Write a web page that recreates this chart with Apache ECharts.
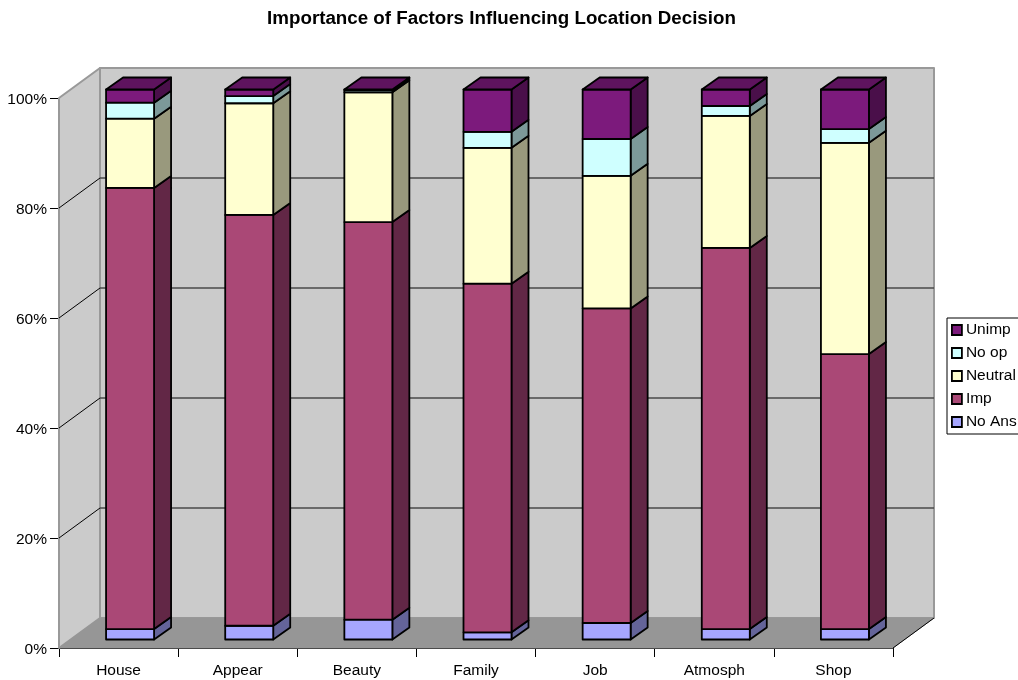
<!DOCTYPE html>
<html>
<head>
<meta charset="utf-8">
<style>
  html, body { margin: 0; padding: 0; background: #fff; }
  #chart { width: 1018px; height: 680px; }
</style>
<script src="https://cdn.jsdelivr.net/npm/echarts@6/dist/echarts.min.js"></script>
</head>
<body>
<div id="chart"></div>
<script>
var categories = ['House', 'Appear', 'Beauty', 'Family', 'Job', 'Atmosph', 'Shop'];
var noAns   = [1.9, 2.5, 3.6, 1.3, 3.0, 1.9, 1.9];
var imp     = [80.2, 74.7, 72.3, 63.4, 57.2, 69.3, 50.0];
var neutral = [12.6, 20.3, 23.6, 24.7, 24.1, 24.0, 38.4];
var noOp    = [2.9, 1.3, 0.4, 2.9, 6.7, 1.8, 2.5];
var unimp   = [2.4, 1.2, 0.1, 7.7, 9.0, 3.0, 7.2];
var seriesNames = ['No Ans', 'Imp', 'Neutral', 'No op', 'Unimp'];
var seriesValues = [noAns, imp, neutral, noOp, unimp];
var frontColors = ['#A6A6FF', '#AA4876', '#FFFFD0', '#CFFFFF', '#7C1A7C'];
var sideColors  = ['#646499', '#622746', '#99997D', '#7C9999', '#4A0F4A'];
var topColor = '#5E135E';
var gridTicks = [0, 20, 40, 60, 80, 100];

// 3d offsets in px: wall depth, gap before the bar, bar depth
var wallDx = 41, wallDy = 30;
var gapDx = 11.5, gapDy = 8.5;
var barDx = 17, barDy = 12;
var barWidth = 48;
var barLine = 1.8;

var myChart = echarts.init(document.getElementById('chart'));

function poly(points, fill, stroke, lineWidth) {
  return {
    type: 'polygon',
    shape: { points: points },
    style: { fill: fill, stroke: stroke, lineWidth: lineWidth, lineJoin: 'round' },
    silent: true
  };
}

function renderWalls(params, api) {
  var sys = params.coordSys;
  var l = sys.x, r = sys.x + sys.width, t = sys.y, b = sys.y + sys.height;
  return {
    type: 'group',
    children: [
      poly([[l, t], [l + wallDx, t - wallDy], [l + wallDx, b - wallDy], [l, b]], '#CBCBCB', '#999999', 2),
      poly([[l + wallDx, t - wallDy], [r + wallDx, t - wallDy], [r + wallDx, b - wallDy], [l + wallDx, b - wallDy]], '#CBCBCB', '#999999', 2),
      poly([[l, b], [l + wallDx, b - wallDy], [r + wallDx, b - wallDy], [r, b]], '#969696', '#969696', 1),
      // right edge of the floor is dark
      { type: 'line', silent: true, shape: { x1: r, y1: b, x2: r + wallDx, y2: b - wallDy }, style: { stroke: '#000', lineWidth: 1 } }
    ]
  };
}

function renderGridLine(params, api) {
  var sys = params.coordSys;
  var y = api.coord([0, api.value(0)])[1];
  var l = sys.x, r = sys.x + sys.width;
  return {
    type: 'group',
    children: [
      { type: 'line', silent: true, shape: { x1: l, y1: y, x2: l + wallDx, y2: y - wallDy }, style: { stroke: '#000', lineWidth: 1 } },
      { type: 'line', silent: true, shape: { x1: l + wallDx, y1: y - wallDy, x2: r + wallDx, y2: y - wallDy }, style: { stroke: '#4A4A4A', lineWidth: 1.5 } }
    ]
  };
}

function makeBarRenderer(seriesIndex) {
  return function (params, api) {
    var lowPt = api.coord([api.value(0), api.value(1)]);
    var highPt = api.coord([api.value(0), api.value(2)]);
    var x0 = lowPt[0] - barWidth / 2 + gapDx;
    var x1 = x0 + barWidth;
    var y0 = lowPt[1] - gapDy;
    var y1 = highPt[1] - gapDy;
    var children = [
      poly([[x1, y0], [x1 + barDx, y0 - barDy], [x1 + barDx, y1 - barDy], [x1, y1]], sideColors[seriesIndex], '#000', barLine),
      poly([[x0, y0], [x1, y0], [x1, y1], [x0, y1]], frontColors[seriesIndex], '#000', barLine)
    ];
    if (seriesIndex === seriesValues.length - 1) {
      children.push(poly([[x0, y1], [x1, y1], [x1 + barDx, y1 - barDy], [x0 + barDx, y1 - barDy]], topColor, '#000', barLine));
    }
    return { type: 'group', children: children };
  };
}

var series = [
  { type: 'custom', name: 'walls', silent: true, clip: false, z: 1, renderItem: renderWalls, data: [[0]], encode: { y: 0 } },
  { type: 'custom', name: 'grid', silent: true, clip: false, z: 2, renderItem: renderGridLine, data: gridTicks.slice(1, 5).map(function (v) { return [v]; }), encode: { y: 0 } }
];

var running = categories.map(function () { return 0; });
seriesValues.forEach(function (vals, si) {
  var rows = vals.map(function (v, i) {
    var row = [i, running[i], running[i] + v];
    running[i] += v;
    return row;
  });
  series.push({
    type: 'custom',
    name: seriesNames[si],
    silent: true,
    clip: false,
    z: 3 + si,
    itemStyle: { color: frontColors[si] },
    renderItem: makeBarRenderer(si),
    encode: { x: 0, y: [1, 2] },
    data: rows
  });
});

var option = {
  animation: false,
  backgroundColor: '#fff',
  textStyle: { fontFamily: '"Liberation Sans", Arial, sans-serif' },
  title: {
    text: 'Importance of Factors Influencing Location Decision',
    left: 496.5,
    textAlign: 'center',
    top: 4,
    textStyle: { fontSize: 18.75, fontWeight: 'bold', color: '#000', fontFamily: '"Liberation Sans", Arial, sans-serif' }
  },
  grid: { left: 59, top: 98, width: 834, height: 550 },
  legend: {
    orient: 'vertical',
    left: 947,
    top: 318,
    padding: [4, 10, 4, 4],
    itemWidth: 10,
    itemHeight: 10,
    itemGap: 7,
    backgroundColor: '#fff',
    borderColor: '#000',
    borderWidth: 1,
    borderRadius: 0,
    selectedMode: false,
    textStyle: { fontSize: 15.5, color: '#000', padding: [0, 0, 0, -1] },
    data: seriesNames.slice().reverse().map(function (n) {
      return { name: n, icon: 'rect', itemStyle: { color: frontColors[seriesNames.indexOf(n)], borderColor: '#000', borderWidth: 1.8 } };
    })
  },
  xAxis: {
    type: 'category',
    data: categories,
    axisLine: { show: true, lineStyle: { color: '#000', width: 1 } },
    axisTick: { show: true, length: 9, alignWithLabel: false, lineStyle: { color: '#000' } },
    axisLabel: { fontSize: 15.5, color: '#000', margin: 15, interval: 0 },
    splitLine: { show: false }
  },
  yAxis: {
    type: 'value',
    min: 0,
    max: 100,
    interval: 20,
    axisLine: { show: true, lineStyle: { color: '#000', width: 1 } },
    axisTick: { show: true, length: 9, lineStyle: { color: '#000' } },
    axisLabel: {
      color: '#000',
      margin: 12,
      formatter: '{a|{value}%}',
      rich: { a: { fontSize: 15.5, color: '#000', padding: [3, 0, 0, 0] } }
    },
    splitLine: { show: false }
  },
  series: series
};
myChart.setOption(option);
</script>
</body>
</html>
